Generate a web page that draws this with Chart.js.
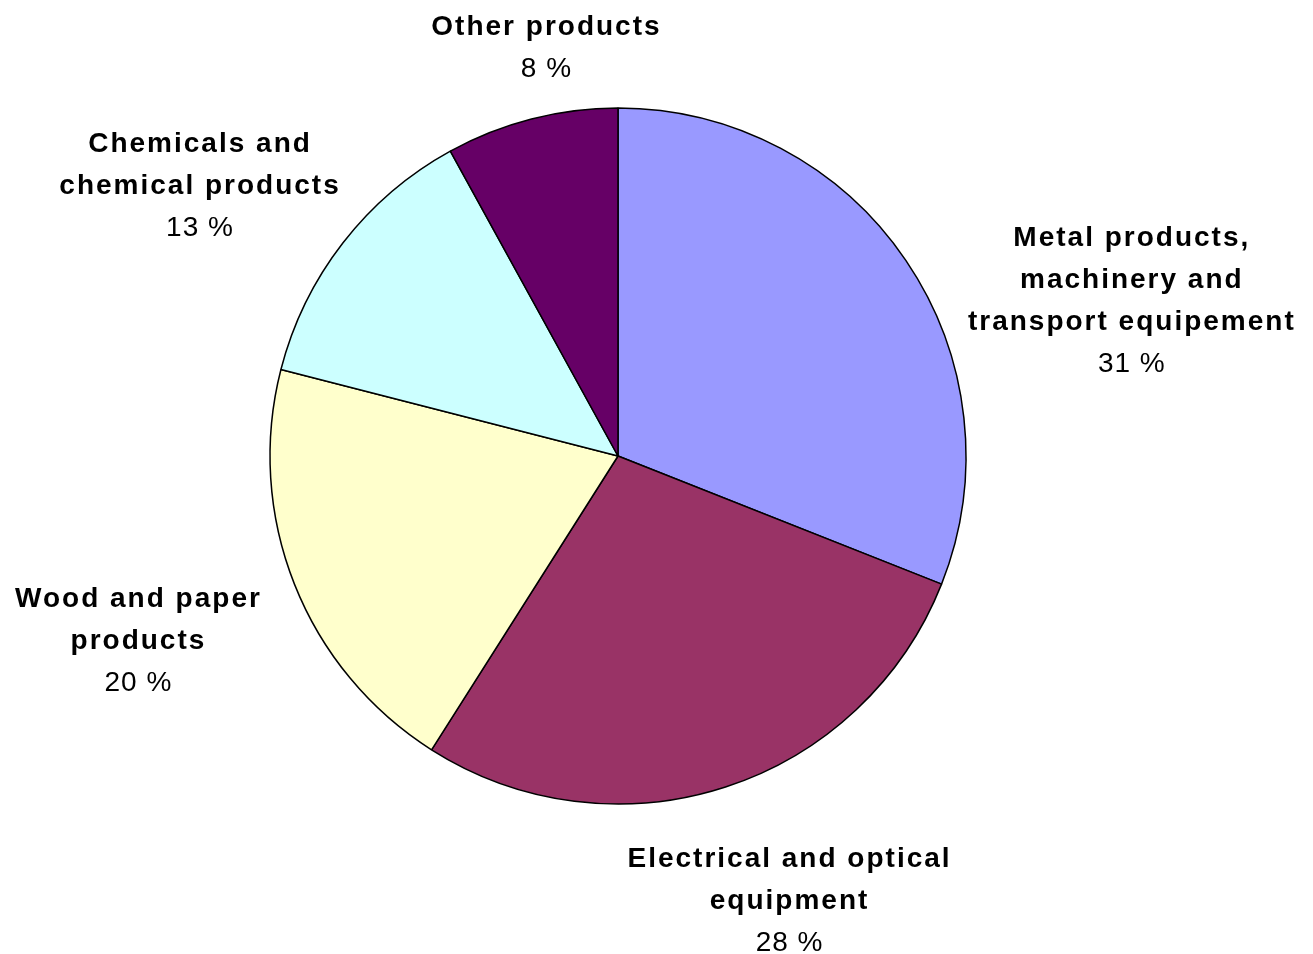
<!DOCTYPE html>
<html>
<head>
<meta charset="utf-8">
<script src="https://cdn.jsdelivr.net/npm/chart.js@4/dist/chart.umd.min.js"></script>
<style>
  html, body { margin: 0; padding: 0; background: #fff; }
  #wrap { width: 1313px; height: 954px; }
</style>
</head>
<body>
<div id="wrap"><canvas id="industryPie"></canvas></div>
<script>
// Share of manufacturing by product group (%)
const categories = [
  ['Metal products,', 'machinery and', 'transport equipement'],
  ['Electrical and optical', 'equipment'],
  ['Wood and paper', 'products'],
  ['Chemicals and', 'chemical products'],
  ['Other products']
];
const shares = [31, 28, 20, 13, 8];
const sliceColors = ['#9999FF', '#993366', '#FFFFCC', '#CCFFFF', '#660066'];

// where each label block sits, relative to its slice's outer mid point
const labelOffsets = [[226, 41], [64, 114], [-156, 57], [-143, -56], [15, -71]];

const outsideLabels = {
  id: 'outsideLabels',
  afterDatasetsDraw(chart) {
    const ctx = chart.ctx;
    const meta = chart.getDatasetMeta(0);
    const lineH = 42;
    ctx.save();
    ctx.fillStyle = '#000';
    ctx.textAlign = 'center';
    ctx.textBaseline = 'middle';
    meta.data.forEach((arc, i) => {
      const mid = (arc.startAngle + arc.endAngle) / 2;
      const px = arc.x + Math.cos(mid) * arc.outerRadius + labelOffsets[i][0];
      const py = arc.y + Math.sin(mid) * arc.outerRadius + labelOffsets[i][1];
      const lines = categories[i].concat([shares[i] + ' %']);
      const top = py - (lines.length - 1) * lineH / 2;
      lines.forEach((t, j) => {
        const isPct = j === lines.length - 1;
        ctx.letterSpacing = isPct ? '1px' : '2px';
        ctx.font = (isPct ? '' : 'bold ') + '28px "Liberation Sans", Arial, sans-serif';
        ctx.fillText(t, px, top + j * lineH);
      });
    });
    ctx.restore();
  }
};

const pieCtx = document.getElementById('industryPie').getContext('2d');
new Chart(pieCtx, {
  type: 'pie',
  data: {
    labels: categories.map(c => c.join(' ')),
    datasets: [{
      data: shares,
      backgroundColor: sliceColors,
      borderColor: '#000',
      borderWidth: 1.5,
      hoverOffset: 0
    }]
  },
  options: {
    responsive: true,
    maintainAspectRatio: false,
    animation: false,
    events: [],
    radius: 348,
    layout: {
      padding: { top: 108, bottom: 150, left: 270, right: 347 }
    },
    plugins: {
      legend: { display: false },
      tooltip: { enabled: false }
    }
  },
  plugins: [outsideLabels]
});
</script>
</body>
</html>
